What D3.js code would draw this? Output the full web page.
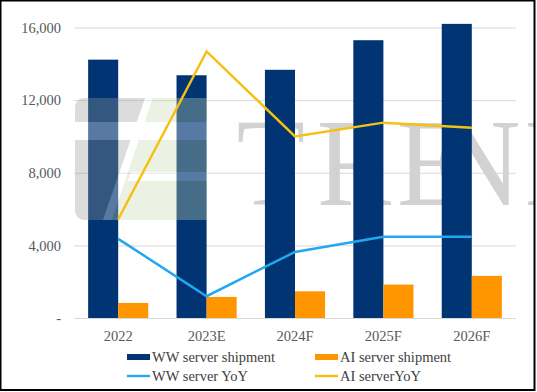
<!DOCTYPE html>
<html>
<head>
<meta charset="utf-8">
<script src="https://cdn.jsdelivr.net/npm/d3@7"></script>
<style>
  body { margin: 0; background: #fff; }
  text { font-family: "Liberation Serif", "Times New Roman", serif; }
  .tick text { fill: #595959; font-size: 14.5px; }
  .legend text { fill: #404040; font-size: 14.5px; }
</style>
</head>
<body>
<div id="chart"></div>
<script>
/* -----------------------
data
------------------------- */

var years = ["2022", "2023E", "2024F", "2025F", "2026F"];
var wwShipment = [14230, 13370, 13670, 15300, 16200];
var aiShipment = [830, 1160, 1470, 1840, 2320];
var wwYoY = [0.9, -7.0, -0.9, 1.2, 1.2];     // hidden secondary axis, %
var aiYoY = [3.6, 26.7, 15.0, 16.9, 16.2];
var yTicks = [0, 4000, 8000, 12000, 16000];

/* -----------------------
set plot
------------------------- */

var width = 537, height = 392;
var margin = {top: 27.5, right: 21, bottom: 74, left: 74};

var svg = d3.select("#chart").append("svg")
  .attr("width", width)
  .attr("height", height);

var x = d3.scaleBand().domain(years).range([margin.left, width - margin.right]);
var xs = d3.scaleBand().domain(["ww", "ai"]).range([0, x.bandwidth()]).paddingOuter(0.47);
var y = d3.scaleLinear().domain([0, 16000]).range([height - margin.bottom, margin.top]);
var y2 = d3.scaleLinear().domain([-10, 30]).range([height - margin.bottom, margin.top]);

// gridlines + labels
var yAxis = d3.axisLeft(y).tickValues(yTicks)
  .tickSize(-(width - margin.left - margin.right))
  .tickPadding(13)
  .tickFormat(function (d) { return d === 0 ? "-   " : d3.format(",")(d); });

var gy = svg.append("g")
  .attr("transform", "translate(" + margin.left + ",0)")
  .call(yAxis);
gy.select(".domain").remove();
gy.selectAll(".tick line").attr("stroke", "#d9d9d9");

var gx = svg.append("g")
  .attr("transform", "translate(0," + (height - margin.bottom) + ")")
  .call(d3.axisBottom(x).tickSize(0).tickPadding(13));
gx.select(".domain").remove();

/* --- watermark text (behind bars), clipped at the frame --- */
svg.append("clipPath").attr("id", "wm-clip")
  .append("rect").attr("x", 0).attr("y", 0).attr("width", 534).attr("height", 390);

svg.append("g")
  .attr("clip-path", "url(#wm-clip)")
  .append("text")
  .attr("transform", "scale(0.9,1)")
  .attr("x", "263 352 441 489 583")
  .attr("y", 205)
  .attr("font-size", 124)
  .attr("fill", "#d2d2d2")
  .text("TREND");

/* --- bars --- */
svg.append("g").selectAll("rect")
  .data(years)
  .enter().append("rect")
  .attr("x", function (d) { return x(d) + xs("ww"); })
  .attr("y", function (d, i) { return y(wwShipment[i]); })
  .attr("width", xs.bandwidth())
  .attr("height", function (d, i) { return y(0) - y(wwShipment[i]); })
  .attr("fill", "#003473");

svg.append("g").selectAll("rect")
  .data(years)
  .enter().append("rect")
  .attr("x", function (d) { return x(d) + xs("ai"); })
  .attr("y", function (d, i) { return y(aiShipment[i]); })
  .attr("width", xs.bandwidth())
  .attr("height", function (d, i) { return y(0) - y(aiShipment[i]); })
  .attr("fill", "#ff9600");

/* --- watermark logo (over bars) --- */
var logo = svg.append("g").attr("opacity", 0.34);
logo.append("rect")
  .attr("x", 75).attr("y", 98).attr("width", 132).attr("height", 122)
  .attr("rx", 9).attr("fill", "#9a9a9a");
logo.append("path")
  .attr("d", "M153,98 L207,98 L207,220 L112,220 Z")
  .attr("fill", "#c9dcb0");
logo.append("path")
  .attr("d", "M145,98 L153,98 L112,220 L103,220 Z")
  .attr("fill", "#fff");
logo.append("rect")
  .attr("x", 75).attr("y", 122).attr("width", 132).attr("height", 18)
  .attr("fill", "#fff");
logo.append("path")
  .attr("d", "M131,172 L207,172 L207,181 L128,181 Z")
  .attr("fill", "#fff");

/* --- lines --- */
var line = d3.line()
  .x(function (d, i) { return x(years[i]) + x.bandwidth() / 2; })
  .y(function (d) { return y2(d); });

svg.append("path")
  .datum(wwYoY)
  .attr("d", line)
  .attr("fill", "none")
  .attr("stroke", "#22a7f0")
  .attr("stroke-width", 2.5);

svg.append("path")
  .datum(aiYoY)
  .attr("d", line)
  .attr("fill", "none")
  .attr("stroke", "#f5c011")
  .attr("stroke-width", 2.5);

/* --- legend --- */
var legendItems = [
  {name: "WW server shipment", color: "#003473", type: "bar", col: 0, row: 0},
  {name: "AI server shipment", color: "#ff9600", type: "bar", col: 1, row: 0},
  {name: "WW server YoY", color: "#22a7f0", type: "line", col: 0, row: 1},
  {name: "AI serverYoY", color: "#f5c011", type: "line", col: 1, row: 1}
];
var legendX = [127, 315];
var legendY = [357, 376];

var legend = svg.append("g").attr("class", "legend")
  .selectAll("g")
  .data(legendItems)
  .enter().append("g")
  .attr("transform", function (d) {
    return "translate(" + legendX[d.col] + "," + legendY[d.row] + ")";
  });

legend.append("rect")
  .attr("x", 0)
  .attr("y", function (d) { return d.type === "bar" ? -3 : -1.2; })
  .attr("width", 23)
  .attr("height", function (d) { return d.type === "bar" ? 6 : 2.4; })
  .attr("fill", function (d) { return d.color; });

legend.append("text")
  .attr("x", 25)
  .attr("dy", "0.33em")
  .text(function (d) { return d.name; });

/* --- frame --- */
svg.append("rect")
  .attr("x", 0.5).attr("y", 0.5)
  .attr("width", 534).attr("height", 389.5)
  .attr("fill", "none")
  .attr("stroke", "#000")
  .attr("stroke-width", 2);
</script>
</body>
</html>
